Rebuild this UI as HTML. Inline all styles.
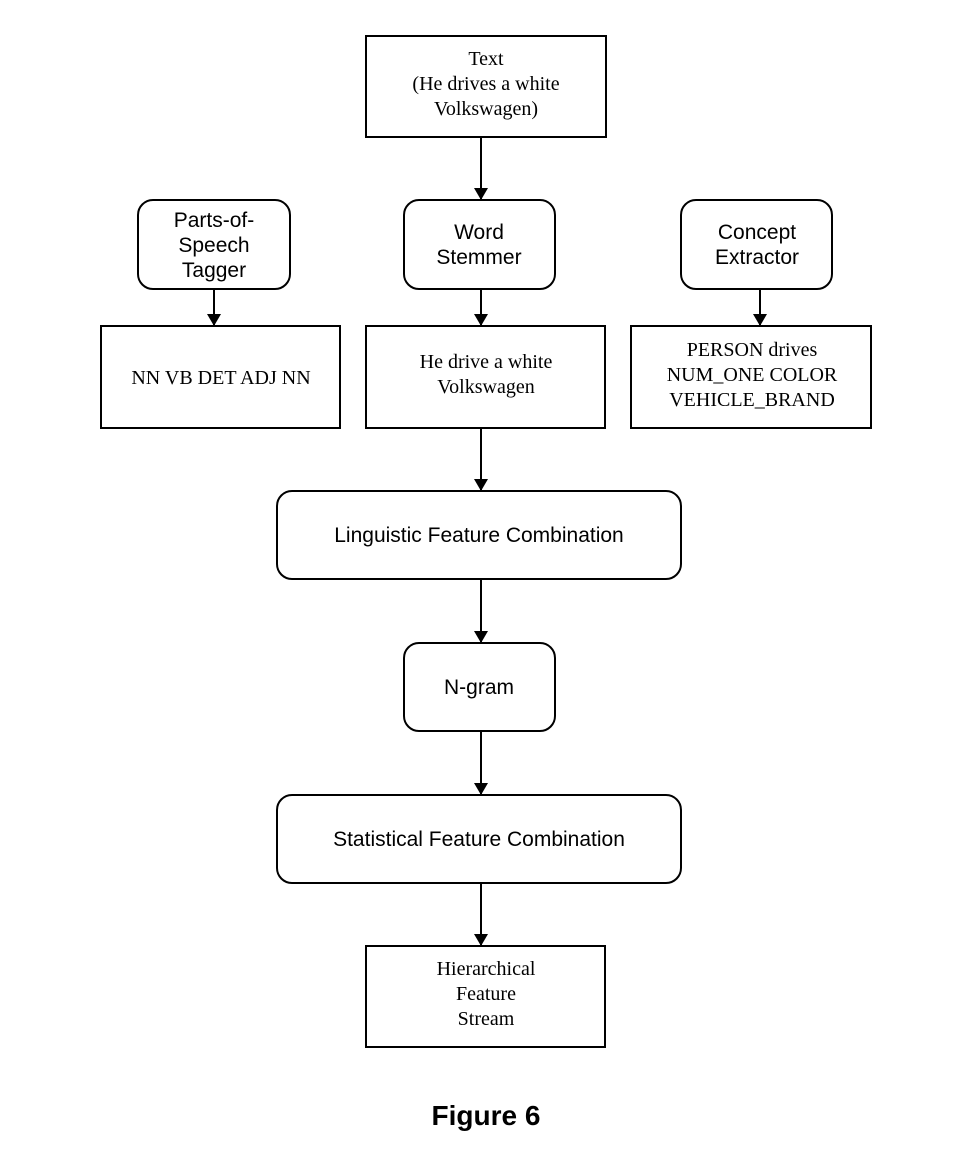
<!DOCTYPE html>
<html><head><style>body{margin:0;background:#fff}</style></head><body>
<svg width="979" height="1159" viewBox="0 0 979 1159" xmlns="http://www.w3.org/2000/svg">
<defs>
<marker id="b" viewBox="0 0 12 14" markerWidth="12" markerHeight="14" refX="12" refY="7" orient="auto" markerUnits="userSpaceOnUse"><path d="M0,0 L12,7 L0,14 z" fill="#000"/></marker></defs>
<g fill="none" stroke="#000" stroke-width="2">
<rect x="366" y="36" width="240" height="101"/>
<rect x="138" y="200" width="152" height="89" rx="15"/>
<rect x="404" y="200" width="151" height="89" rx="15"/>
<rect x="681" y="200" width="151" height="89" rx="15"/>
<rect x="101" y="326" width="239" height="102"/>
<rect x="366" y="326" width="239" height="102"/>
<rect x="631" y="326" width="240" height="102"/>
<rect x="277" y="491" width="404" height="88" rx="15"/>
<rect x="404" y="643" width="151" height="88" rx="15"/>
<rect x="277" y="795" width="404" height="88" rx="15"/>
<rect x="366" y="946" width="239" height="101"/>
<line x1="481" y1="137" x2="481" y2="200" marker-end="url(#b)"/>
<line x1="214" y1="289" x2="214" y2="326" marker-end="url(#b)"/>
<line x1="481" y1="289" x2="481" y2="326" marker-end="url(#b)"/>
<line x1="760" y1="289" x2="760" y2="326" marker-end="url(#b)"/>
<line x1="481" y1="428" x2="481" y2="491" marker-end="url(#b)"/>
<line x1="481" y1="579" x2="481" y2="643" marker-end="url(#b)"/>
<line x1="481" y1="731" x2="481" y2="795" marker-end="url(#b)"/>
<line x1="481" y1="883" x2="481" y2="946" marker-end="url(#b)"/>
</g>
<g font-family="Liberation Serif, serif" font-size="20" text-anchor="middle" fill="#000">
<text x="486" y="65">Text</text>
<text x="486" y="90">(He drives a white</text>
<text x="486" y="115">Volkswagen)</text>
<text x="221" y="384">NN VB DET ADJ NN</text>
<text x="486" y="368">He drive a white</text>
<text x="486" y="393">Volkswagen</text>
<text x="752" y="356">PERSON drives</text>
<text x="752" y="381">NUM_ONE COLOR</text>
<text x="752" y="406">VEHICLE_BRAND</text>
<text x="486" y="975">Hierarchical</text>
<text x="486" y="1000">Feature</text>
<text x="486" y="1025">Stream</text>
</g>
<g font-family="Liberation Sans, sans-serif" font-size="21" text-anchor="middle" fill="#000">
<text x="214" y="227">Parts-of-</text>
<text x="214" y="252">Speech</text>
<text x="214" y="277">Tagger</text>
<text x="479" y="239">Word</text>
<text x="479" y="264">Stemmer</text>
<text x="757" y="239">Concept</text>
<text x="757" y="264">Extractor</text>
<text x="479" y="542">Linguistic Feature Combination</text>
<text x="479" y="694">N-gram</text>
<text x="479" y="846">Statistical Feature Combination</text>
<text x="486" y="1125" font-size="28" font-weight="bold">Figure 6</text>
</g>
</svg>
</body></html>
